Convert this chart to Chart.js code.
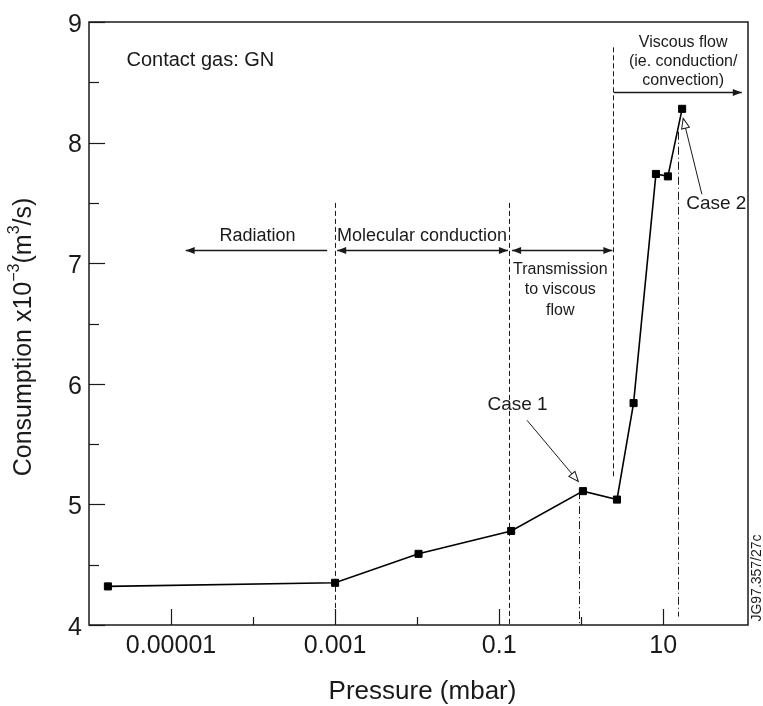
<!DOCTYPE html>
<html>
<head>
<meta charset="utf-8">
<title>Consumption vs pressure</title>
<script src="https://cdn.jsdelivr.net/npm/chart.js@4.4.1/dist/chart.umd.min.js"></script>
<style>
  html, body { margin: 0; padding: 0; background: #fff; }
  #wrap { width: 763px; height: 706px; position: relative; }
</style>
</head>
<body>
<div id="wrap"><canvas id="myChart"></canvas></div>
<script>
// measured consumption against pressure
const pressure = [1.7e-6, 0.001, 0.0104, 0.14, 1.05, 2.73, 4.35, 8.15, 11.4, 17.0];
const consumption = [4.32, 4.35, 4.59, 4.78, 5.11, 5.04, 5.84, 7.74, 7.72, 8.28];

const xTickValues = [1e-5, 1e-4, 1e-3, 1e-2, 1e-1, 1, 10];
const xTickLabels = ['0.00001', '', '0.001', '', '0.1', '', '10'];
const yTickValues = [4, 4.5, 5, 5.5, 6, 6.5, 7, 7.5, 8, 8.5, 9];
const yTickLabels = ['4', '', '5', '', '6', '', '7', '', '8', '', '9'];

const FONT = '"Liberation Sans", Arial, Helvetica, sans-serif';
const INK = '#1a1a1a';

// regime boundaries (vertical lines)
const boundaries = [
	{ p: 0.001, from: 4, to: 7.5, dash: [5, 3] },
	{ p: 0.13, from: 4, to: 7.5, dash: [5, 3] },
	{ p: 2.46, from: 5.215, to: 8.79, dash: [5, 3] },
	{ p: 0.95, from: 4, to: 5.11, dash: [8, 3, 1, 3] },
	{ p: 15.1, from: 4.07, to: 8.09, dash: [8, 3, 1, 3] },
];

// regime arrows
const arrows = [
	{ from: 8.0e-4, to: 1.51e-5, level: 7.11, both: false },
	{ from: 1.06e-3, to: 0.128, level: 7.11, both: true },
	{ from: 0.1436, to: 2.4, level: 7.11, both: true },
	{ from: 2.49, to: 90.8, level: 8.42, both: false },
];

const regimeTexts = [
	{ lines: ['Radiation'], p: 1.13e-4, c: 7.227, size: 18, lh: 20 },
	{ lines: ['Molecular conduction'], p: 0.01145, c: 7.227, size: 18, lh: 20 },
	{ lines: ['Transmission', 'to viscous', 'flow'], p: 0.556, c: 6.947, size: 16, lh: 20.5 },
	{ lines: ['Viscous flow', '(ie. conduction/', 'convection)'], p: 17.5, c: 8.828, size: 16, lh: 19 },
];

const caseNotes = [
	{ text: 'Case 1', p: 0.072, c: 5.823, tail: [0.2188, 5.697], head: [0.923, 5.19] },
	{ text: 'Case 2', p: 19.05, c: 7.489, tail: [29.6, 7.571], head: [17.5, 8.201] },
];

const drawLine = (ctx, x1, y1, x2, y2) => {
	ctx.beginPath();
	ctx.moveTo(x1, y1);
	ctx.lineTo(x2, y2);
	ctx.stroke();
};

const drawHead = (ctx, x, y, dir, open) => {
	// dir: angle the arrow points to
	const len = open ? 10 : 9;
	const half = open ? 4 : 3.5;
	ctx.save();
	ctx.translate(x, y);
	ctx.rotate(dir);
	ctx.beginPath();
	ctx.moveTo(0, 0);
	ctx.lineTo(-len, -half);
	ctx.lineTo(-len, half);
	ctx.closePath();
	if (open) {
		ctx.fillStyle = '#fff';
		ctx.fill();
		ctx.lineWidth = 1;
		ctx.stroke();
	} else {
		ctx.fillStyle = INK;
		ctx.fill();
	}
	ctx.restore();
};

const annotations = {
	id: 'annotations',
	beforeDatasetsDraw(chart) {
		const { ctx, chartArea: a } = chart;
		const xs = chart.scales.x;
		const ys = chart.scales.y;
		ctx.save();
		ctx.strokeStyle = INK;

		// frame
		ctx.lineWidth = 1.5;
		ctx.strokeRect(a.left, a.top, a.right - a.left, a.bottom - a.top);

		// inward tick marks
		ctx.lineWidth = 1.2;
		xs.ticks.forEach((t, i) => {
			const px = Math.round(xs.getPixelForValue(t.value)) + 0.5;
			drawLine(ctx, px, a.bottom, px, a.bottom - (xTickLabels[i] ? 16 : 8));
		});
		ys.ticks.forEach((t, i) => {
			const py = Math.round(ys.getPixelForValue(t.value)) + 0.5;
			drawLine(ctx, a.left, py, a.left + (yTickLabels[i] ? 16 : 10), py);
		});

		// regime boundaries
		ctx.lineWidth = 1;
		boundaries.forEach((b) => {
			const px = Math.round(xs.getPixelForValue(b.p)) + 0.5;
			ctx.setLineDash(b.dash);
			drawLine(ctx, px, ys.getPixelForValue(b.to), px, ys.getPixelForValue(b.from));
		});
		ctx.setLineDash([]);

		// regime arrows
		ctx.lineWidth = 1.3;
		arrows.forEach((ar) => {
			const x1 = xs.getPixelForValue(ar.from);
			const x2 = xs.getPixelForValue(ar.to);
			const py = Math.round(ys.getPixelForValue(ar.level)) + 0.5;
			drawLine(ctx, x1, py, x2, py);
			const dir = x2 > x1 ? 0 : Math.PI;
			drawHead(ctx, x2, py, dir, false);
			if (ar.both) drawHead(ctx, x1, py, dir + Math.PI, false);
		});

		// case pointers
		ctx.lineWidth = 1;
		caseNotes.forEach((n) => {
			const tx = xs.getPixelForValue(n.tail[0]);
			const ty = ys.getPixelForValue(n.tail[1]);
			const hx = xs.getPixelForValue(n.head[0]);
			const hy = ys.getPixelForValue(n.head[1]);
			const dir = Math.atan2(hy - ty, hx - tx);
			drawLine(ctx, tx, ty, hx - 9 * Math.cos(dir), hy - 9 * Math.sin(dir));
			drawHead(ctx, hx, hy, dir, true);
		});

		// texts
		ctx.fillStyle = INK;
		ctx.textBaseline = 'middle';
		regimeTexts.forEach((r) => {
			ctx.font = `${r.size}px ${FONT}`;
			ctx.textAlign = 'center';
			const px = xs.getPixelForValue(r.p);
			const py = ys.getPixelForValue(r.c);
			r.lines.forEach((line, i) => ctx.fillText(line, px, py + i * r.lh));
		});
		ctx.font = `19px ${FONT}`;
		ctx.textAlign = 'left';
		caseNotes.forEach((n) => {
			ctx.fillText(n.text, xs.getPixelForValue(n.p), ys.getPixelForValue(n.c));
		});
		ctx.font = `20px ${FONT}`;
		ctx.fillText('Contact gas: GN', xs.getPixelForValue(2.86e-6), ys.getPixelForValue(8.68));

		ctx.restore();
	},
	afterDraw(chart) {
		const { ctx, chartArea: a } = chart;
		ctx.save();
		ctx.fillStyle = INK;
		ctx.textBaseline = 'middle';

		// x title
		ctx.font = `26px ${FONT}`;
		ctx.textAlign = 'center';
		ctx.fillText('Pressure (mbar)', (a.left + a.right) / 2 + 4, 692);

		// y title with superscripts
		const parts = [
			['Consumption x10', false],
			['\u22123', true],
			['(m', false],
			['3', true],
			['/s)', false],
		];
		const setFont = (sup) => { ctx.font = `${sup ? 16 : 25}px ${FONT}`; };
		let total = 0;
		parts.forEach(([t, sup]) => { setFont(sup); total += ctx.measureText(t).width; });
		ctx.translate(24, 337);
		ctx.rotate(-Math.PI / 2);
		ctx.textAlign = 'left';
		let cx = -total / 2;
		parts.forEach(([t, sup]) => {
			setFont(sup);
			ctx.fillText(t, cx, sup ? -9 : 0);
			cx += ctx.measureText(t).width;
		});
		ctx.restore();

		// figure reference
		ctx.save();
		ctx.fillStyle = INK;
		ctx.font = `14px ${FONT}`;
		ctx.textAlign = 'center';
		ctx.textBaseline = 'middle';
		ctx.translate(757, 578);
		ctx.rotate(-Math.PI / 2);
		ctx.fillText('JG97.357/27c', 0, 0);
		ctx.restore();
	},
};

const showChart = () => {
	const ctx = document.getElementById('myChart').getContext('2d');
	new Chart(ctx, {
		type: 'line',
		data: {
			datasets: [
				{
					data: pressure.map((p, i) => ({ x: p, y: consumption[i] })),
					borderColor: '#000',
					borderWidth: 1.6,
					backgroundColor: '#000',
					pointStyle: 'rect',
					pointRadius: 5,
					pointBorderWidth: 1,
					tension: 0,
				},
			],
		},
		options: {
			responsive: true,
			maintainAspectRatio: false,
			animation: false,
			layout: { padding: { top: 16, right: 15, left: 0, bottom: 0 } },
			plugins: {
				legend: { display: false },
				tooltip: { enabled: false },
			},
			scales: {
				x: {
					type: 'logarithmic',
					min: 1e-6,
					max: 108,
					grid: { display: false, drawTicks: false },
					border: { display: false },
					afterBuildTicks: (scale) => {
						scale.ticks = xTickValues.map((value) => ({ value }));
					},
					afterFit: (scale) => {
						scale.height = 81;
					},
					ticks: {
						autoSkip: false,
						maxRotation: 0,
						padding: 6,
						color: INK,
						font: { family: FONT, size: 25 },
						callback: (value, i) => xTickLabels[i],
					},
				},
				y: {
					min: 4,
					max: 9,
					grid: { display: false, drawTicks: false },
					border: { display: false },
					afterBuildTicks: (scale) => {
						scale.ticks = yTickValues.map((value) => ({ value }));
					},
					afterFit: (scale) => {
						scale.width = 89;
					},
					ticks: {
						autoSkip: false,
						padding: 7,
						labelOffset: 3,
						color: INK,
						font: { family: FONT, size: 25 },
						callback: (value, i) => yTickLabels[i],
					},
				},
			},
		},
		plugins: [annotations],
	});
};

showChart();
</script>
</body>
</html>
